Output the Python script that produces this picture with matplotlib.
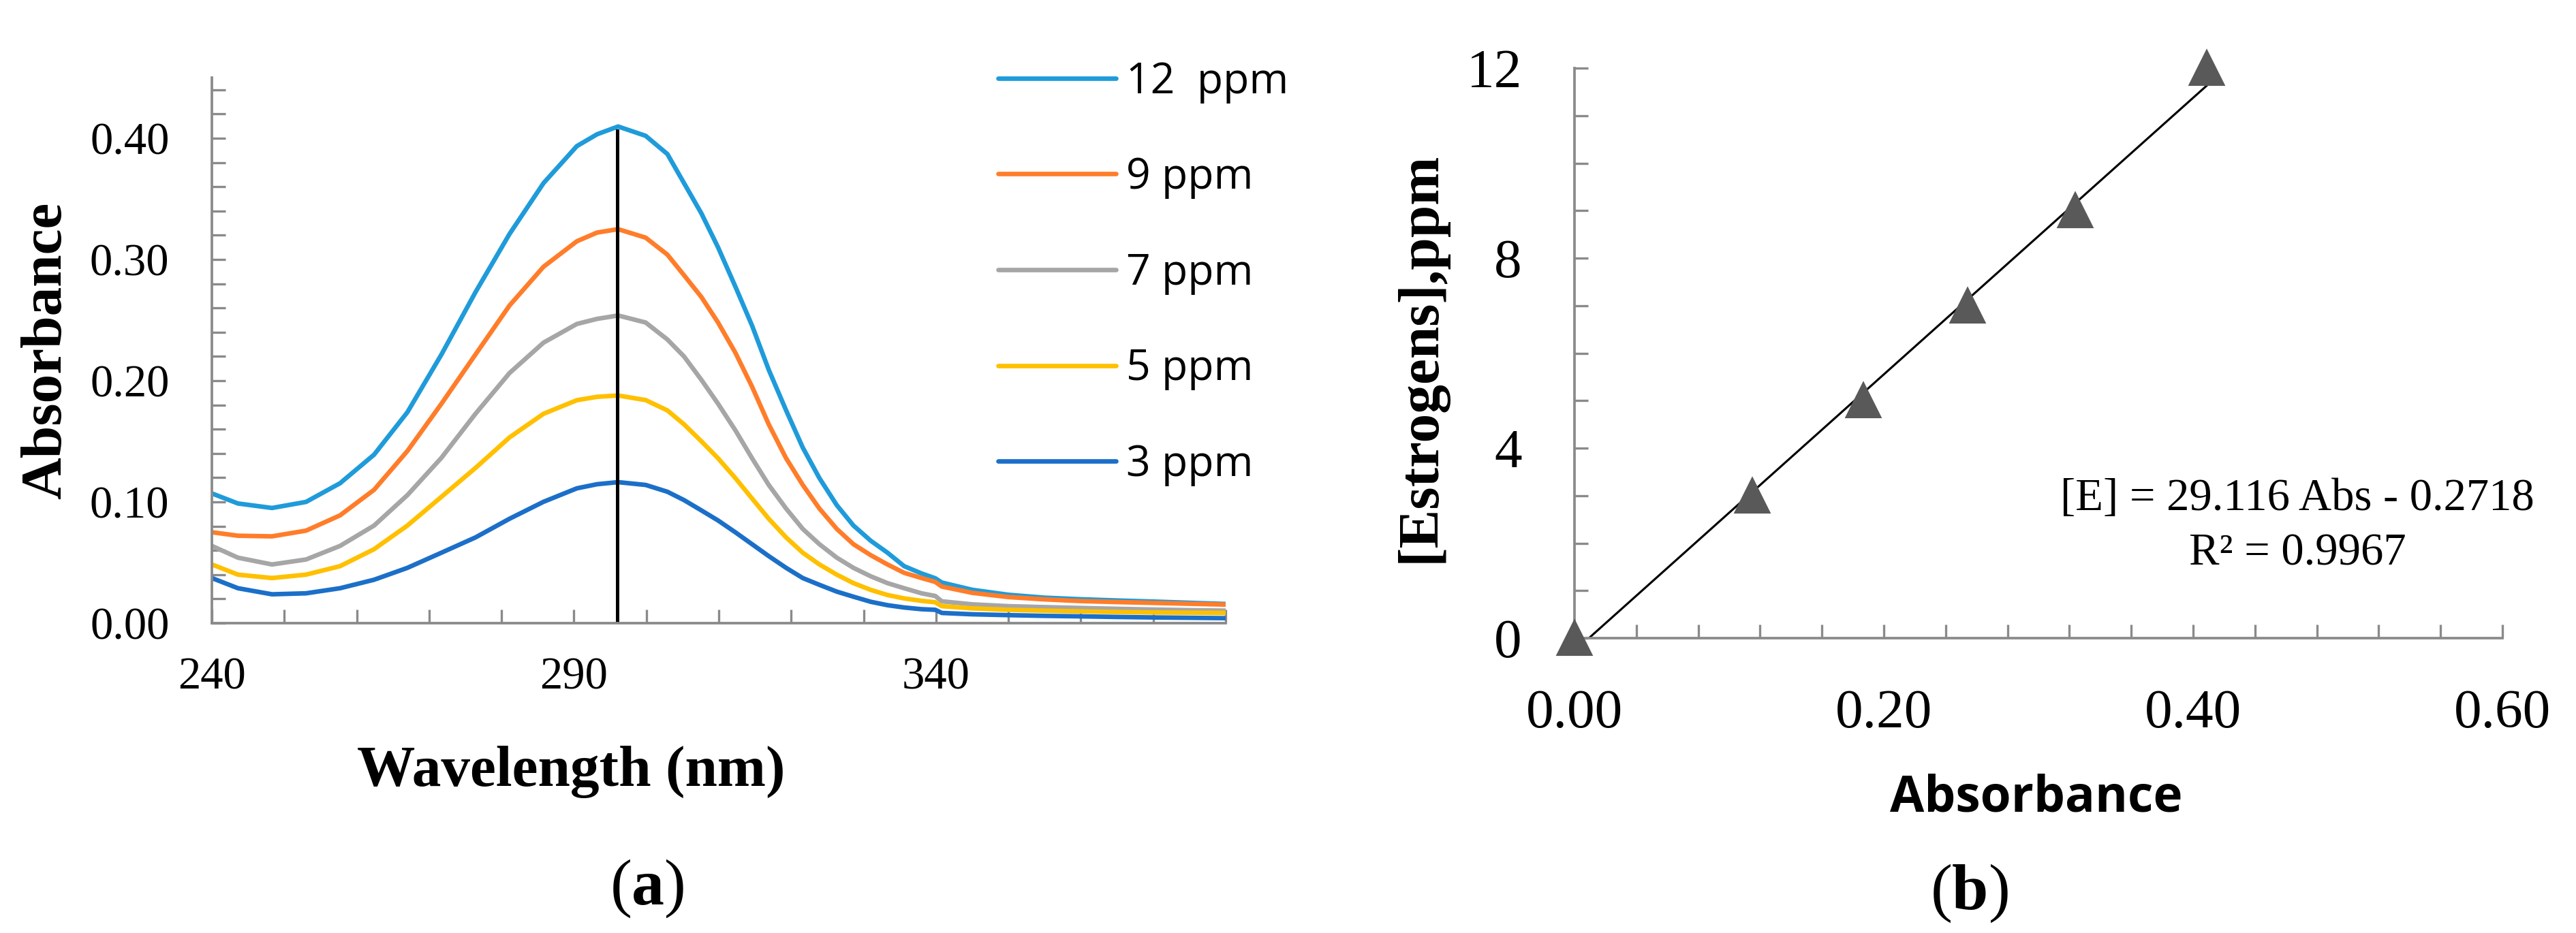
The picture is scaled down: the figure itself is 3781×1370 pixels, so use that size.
import numpy as np
import matplotlib
matplotlib.use('Agg')
import matplotlib.pyplot as plt
from matplotlib.ticker import FixedLocator, MultipleLocator

# ---- data ----
wavelength = [240, 243.6, 248.3, 253.0, 257.7, 262.4, 267.0, 271.7, 276.4, 281.1,
              285.8, 290.4, 293.2, 296.1, 299.9, 302.9, 305.2, 307.6, 309.9, 312.3,
              314.6, 316.9, 319.3, 321.6, 323.9, 326.3, 328.6, 331.0, 333.3, 335.6,
              338.0, 339.9, 340.8, 345.0, 350.0, 355.0, 360.0, 365.0, 370.0, 375.0, 380.0]

abs_12ppm = [0.107, 0.0987, 0.095, 0.100, 0.1154, 0.139, 0.174, 0.2216, 0.273, 0.321,
             0.363, 0.3935, 0.4033, 0.4097, 0.402, 0.387, 0.363, 0.338, 0.310, 0.2775,
             0.2454, 0.209, 0.1755, 0.1448, 0.1196, 0.0973, 0.0805, 0.0679, 0.0581, 0.047,
             0.041, 0.037, 0.0335, 0.0275, 0.0234, 0.021, 0.0197, 0.0187, 0.0178, 0.0168, 0.0158]
abs_9ppm = [0.075, 0.0721, 0.0716, 0.0763, 0.0889, 0.110, 0.142, 0.181, 0.2216, 0.262,
            0.294, 0.315, 0.3222, 0.325, 0.318, 0.304, 0.287, 0.269, 0.248, 0.223,
            0.195, 0.164, 0.136, 0.114, 0.0945, 0.0777, 0.0651, 0.056, 0.0484, 0.0415,
            0.0372, 0.034, 0.0302, 0.025, 0.0215, 0.0196, 0.0182, 0.0174, 0.0167, 0.016, 0.0153]
abs_7ppm = [0.0637, 0.054, 0.0484, 0.0525, 0.0637, 0.0805, 0.1056, 0.1364, 0.1727, 0.2063,
            0.2314, 0.2468, 0.251, 0.2538, 0.248, 0.234, 0.220, 0.2007, 0.181, 0.159,
            0.136, 0.114, 0.0945, 0.0777, 0.0651, 0.054, 0.0456, 0.0386, 0.033, 0.0288,
            0.0246, 0.0224, 0.018, 0.0155, 0.014, 0.0132, 0.0125, 0.0118, 0.0112, 0.0107, 0.0103]
abs_5ppm = [0.0484, 0.040, 0.0372, 0.040, 0.047, 0.061, 0.0805, 0.1042, 0.128, 0.1532,
            0.1727, 0.1839, 0.1867, 0.1878, 0.184, 0.1755, 0.164, 0.150, 0.136, 0.1196,
            0.1028, 0.0861, 0.0707, 0.0581, 0.0484, 0.040, 0.033, 0.0274, 0.0232, 0.0204,
            0.0184, 0.0172, 0.014, 0.0122, 0.011, 0.0103, 0.0097, 0.0092, 0.0088, 0.0086, 0.0084]
abs_3ppm = [0.0372, 0.0288, 0.0238, 0.0246, 0.0288, 0.0358, 0.0456, 0.0581, 0.0707, 0.0861,
            0.1001, 0.1112, 0.1146, 0.1163, 0.114, 0.1084, 0.1015, 0.093, 0.0847, 0.0749,
            0.0651, 0.0553, 0.0456, 0.0372, 0.0316, 0.026, 0.0218, 0.0176, 0.0148, 0.0129,
            0.0115, 0.011, 0.0084, 0.0073, 0.0066, 0.006, 0.0056, 0.0051, 0.0047, 0.0044, 0.0041]

series_labels = ['12  ppm', '9 ppm', '7 ppm', '5 ppm', '3 ppm']
series_colors = ['#1F9BDA', '#FF7D2A', '#A6A6A6', '#FFC000', '#1B6FC8']
peak_wavelength = 296
peak_top = 0.406

x_ticks_a = [240, 290, 340]
y_ticks_a = [0.0, 0.1, 0.2, 0.3, 0.4]

# calibration (panel b)
cal_abs = [0.0, 0.115, 0.187, 0.254, 0.324, 0.409]
cal_conc = [0, 3, 5, 7, 9, 12]
slope = 29.116
intercept = -0.2718
r2 = 0.9967
x_ticks_b = [0.0, 0.2, 0.4, 0.6]
y_ticks_b = [0, 4, 8, 12]

# ---- style ----
plt.rcParams['mathtext.fontset'] = 'custom'
plt.rcParams['mathtext.rm'] = 'Liberation Serif'
plt.rcParams['mathtext.bf'] = 'Liberation Serif:bold'
serif = 'Liberation Serif'
sans = 'Open Sans'
axis_grey = '#8A8A8A'

W, H = 3781, 1370
fig = plt.figure(figsize=(W/300, H/300), dpi=300)

def px_rect(left, top, right, bottom):
    return [left/W, 1 - bottom/H, (right-left)/W, (bottom-top)/H]

def style_axes(ax, labelsize, xpad, ypad):
    for side in ['top', 'right']:
        ax.spines[side].set_visible(False)
    for side in ['left', 'bottom']:
        ax.spines[side].set_color(axis_grey)
        ax.spines[side].set_linewidth(0.9)
    ax.tick_params(which='both', direction='in', length=4.8, width=0.8, color=axis_grey)
    ax.tick_params(axis='x', which='both', pad=xpad)
    ax.tick_params(axis='y', which='both', pad=ypad)
    for lab in ax.get_xticklabels() + ax.get_yticklabels():
        lab.set_fontfamily(serif)
        lab.set_fontsize(labelsize)

# ---- panel (a): spectra ----
ax1 = fig.add_axes(px_rect(311, 114, 1799, 915))
spectra = [abs_12ppm, abs_9ppm, abs_7ppm, abs_5ppm, abs_3ppm]
for y, lab, c in zip(spectra, series_labels, series_colors):
    ax1.plot(wavelength, y, color=c, lw=1.6, label=lab,
             solid_capstyle='round', solid_joinstyle='round')
ax1.plot([peak_wavelength, peak_wavelength], [0, peak_top], color='black', lw=1.2)

ax1.set_xlim(240, 380)
ax1.set_ylim(0, 0.45)
ax1.xaxis.set_major_locator(FixedLocator(x_ticks_a))
ax1.xaxis.set_minor_locator(MultipleLocator(10))
ax1.yaxis.set_major_locator(FixedLocator(y_ticks_a))
ax1.yaxis.set_minor_locator(FixedLocator(np.arange(0, 0.441, 0.02)))
ax1.set_xticklabels([str(t) for t in x_ticks_a])
ax1.set_yticklabels(['%.2f' % t for t in y_ticks_a])
style_axes(ax1, 16, 12, 15)

leg = ax1.legend(loc='upper left', bbox_to_anchor=(1465/W, 1 - 89/H),
                 bbox_transform=fig.transFigure, frameon=False,
                 prop={'family': sans, 'size': 15}, handlelength=2.77,
                 handletextpad=0.24, labelspacing=1.25, borderpad=0, borderaxespad=0)
for l in leg.get_lines():
    l.set_linewidth(1.6)

fig.text(69/W, 1 - 515/H, 'Absorbance', rotation=90, ha='center', va='center',
         family=serif, weight='bold', size=20.5)
fig.text(838/W, 1 - 1154/H, 'Wavelength (nm)', ha='center', va='baseline',
         family=serif, weight='bold', size=20.5)
fig.text(950/W, 1 - 1328/H, r'($\mathbf{a}$)', ha='center', va='baseline',
         family=serif, size=23)

# ---- panel (b): calibration ----
ax2 = fig.add_axes(px_rect(2311, 100, 3673, 937))
ax2.plot(cal_abs, cal_conc, linestyle='none', marker='^', markersize=11.3,
         color='#595959', clip_on=False, zorder=3)
x_fit = np.array([-intercept/slope, max(cal_abs)])
ax2.plot(x_fit, slope*x_fit + intercept, color='black', lw=0.75, zorder=2)

ax2.set_xlim(0, 0.6)
ax2.set_ylim(0, 12)
ax2.xaxis.set_major_locator(FixedLocator(x_ticks_b))
ax2.xaxis.set_minor_locator(MultipleLocator(0.04))
ax2.yaxis.set_major_locator(FixedLocator(y_ticks_b))
ax2.yaxis.set_minor_locator(MultipleLocator(1))
ax2.set_xticklabels(['%.2f' % t for t in x_ticks_b])
ax2.set_yticklabels([str(t) for t in y_ticks_b])
style_axes(ax2, 19.5, 18, 18.5)

fig.text(3372/W, 1 - 749/H, '[E] = %.3f Abs - %.4f' % (slope, -intercept),
         ha='center', va='baseline', family=serif, size=16)
fig.text(3372/W, 1 - 829/H, 'R² = %.4f' % r2, ha='center', va='baseline',
         family=serif, size=16)

fig.text(2085/W, 1 - 524/H, '[Estrogens],ppm', rotation=90, ha='center', va='center',
         family=serif, weight='bold', size=20.5)
fig.text(2989/W, 1 - 1192/H, 'Absorbance', ha='center', va='baseline',
         family=sans, weight='bold', size=17.5)
fig.text(2890/W, 1 - 1335/H, r'($\mathbf{b}$)', ha='center', va='baseline',
         family=serif, size=23)

fig.savefig('out.png', dpi=300)
